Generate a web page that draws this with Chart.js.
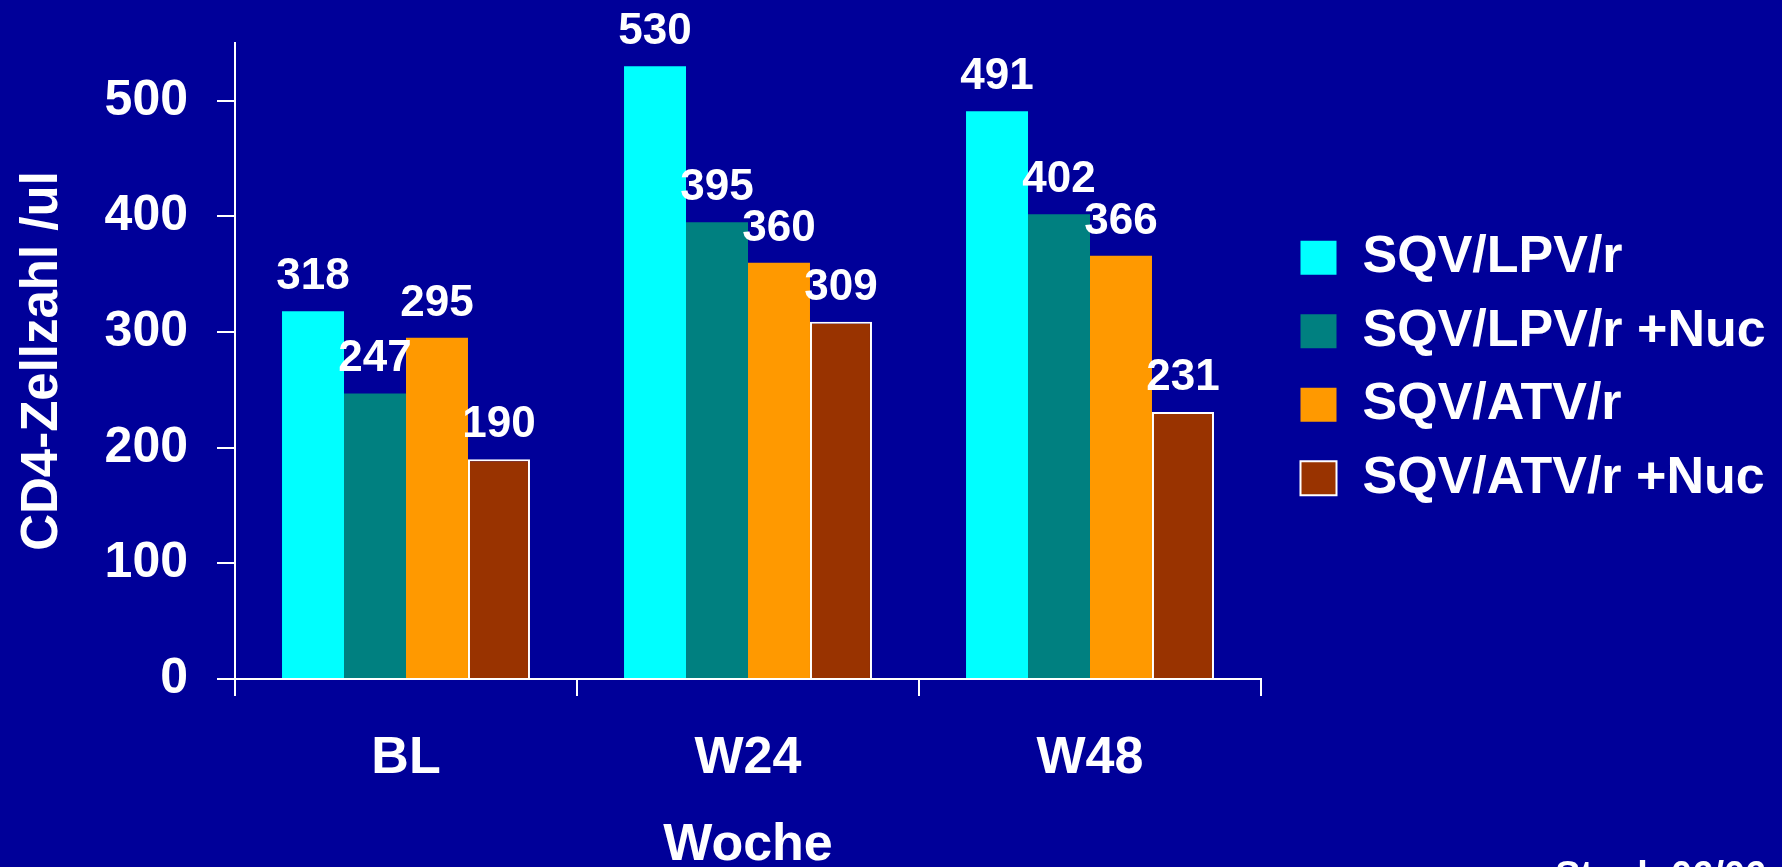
<!DOCTYPE html>
<html>
<head>
<meta charset="utf-8">
<title>CD4-Zellzahl</title>
<script src="https://cdn.jsdelivr.net/npm/chart.js@4.4.1/dist/chart.umd.min.js"></script>
<style>
  html, body { margin: 0; padding: 0; background: #000099; }
  #wrap { position: relative; width: 1782px; height: 867px; }
</style>
</head>
<body>
<div id="wrap"><canvas id="jsChart"></canvas></div>
<script>
// Daten
const weeks = ['BL', 'W24', 'W48'];
const seriesNames = ['SQV/LPV/r', 'SQV/LPV/r +Nuc', 'SQV/ATV/r', 'SQV/ATV/r +Nuc'];
const sqvLpv = [318, 530, 491];
const sqvLpvNuc = [247, 395, 402];
const sqvAtv = [295, 360, 366];
const sqvAtvNuc = [190, 309, 231];
const yTicks = [0, 100, 200, 300, 400, 500];
const footNote = 'Staub 06/06';

const FONT = '"Liberation Sans", Arial, sans-serif';

Chart.defaults.color = '#ffffff';
Chart.defaults.font.family = FONT;
Chart.defaults.font.weight = 'bold';

// Werte über den Balken
const valueLabels = {
  id: 'valueLabels',
  afterDatasetsDraw(chart) {
    const ctx = chart.ctx;
    ctx.save();
    ctx.font = 'bold 44px ' + FONT;
    ctx.fillStyle = '#ffffff';
    ctx.textAlign = 'center';
    ctx.textBaseline = 'alphabetic';
    chart.data.datasets.forEach((ds, i) => {
      chart.getDatasetMeta(i).data.forEach((bar, j) => {
        ctx.fillText(ds.data[j], bar.x, bar.y - 22);
      });
    });
    ctx.restore();
  }
};

// Legende: feste Breite, leicht verschoben wie im Original
const legendPlace = {
  id: 'legendPlace',
  beforeInit(chart) {
    const fit = chart.legend.fit;
    chart.legend.fit = function () {
      fit.call(this);
      this.width = 521;
    };
  },
  afterLayout(chart) {
    chart.legend.left += 18;
    chart.legend.top += 14;
  }
};

// Fußnote unten rechts (im Original abgeschnitten)
const footer = {
  id: 'footer',
  afterDraw(chart) {
    const ctx = chart.ctx;
    ctx.save();
    ctx.font = 'bold 38px ' + FONT;
    ctx.fillStyle = '#ffffff';
    ctx.textAlign = 'left';
    ctx.fillText(footNote, 1555, 888);
    ctx.restore();
  }
};

const ctx = document.getElementById('jsChart');

new Chart(ctx, {
  type: 'bar',
  data: {
    labels: weeks,
    datasets: [
      { label: seriesNames[0], data: sqvLpv, backgroundColor: '#00ffff', borderWidth: 0 },
      { label: seriesNames[1], data: sqvLpvNuc, backgroundColor: '#008080', borderWidth: 0 },
      { label: seriesNames[2], data: sqvAtv, backgroundColor: '#ff9900', borderWidth: 0 },
      { label: seriesNames[3], data: sqvAtvNuc, backgroundColor: '#993300', borderColor: '#ffffff', borderWidth: 2 },
    ],
  },
  options: {
    responsive: true,
    maintainAspectRatio: false,
    animation: false,
    layout: { padding: { top: 43, left: 0, right: 0, bottom: 0 } },
    datasets: {
      bar: { categoryPercentage: 0.725, barPercentage: 1.0 },
    },
    plugins: {
      tooltip: { enabled: false },
      legend: {
        position: 'right',
        align: 'center',
        fullSize: false,
        labels: {
          color: '#ffffff',
          font: { size: 52, weight: 'bold', family: FONT },
          boxWidth: 36,
          boxHeight: 34,
          padding: 21.5,
        },
      },
    },
    scales: {
      x: {
        offset: true,
        grid: {
          offset: true,
          drawOnChartArea: false,
          color: '#ffffff',
          lineWidth: 2,
          tickLength: 17,
        },
        border: { display: true, color: '#ffffff', width: 2 },
        ticks: {
          color: '#ffffff',
          font: { size: 52, weight: 'bold', family: FONT },
          padding: 31,
          maxRotation: 0,
        },
        title: {
          display: true,
          text: 'Woche',
          color: '#ffffff',
          font: { size: 52, weight: 'bold', family: FONT },
          padding: { top: 0, bottom: -10 },
        },
        afterFit(scale) { scale.height = 188; },
      },
      y: {
        min: 0,
        max: 550,
        grid: {
          drawOnChartArea: false,
          color: '#ffffff',
          lineWidth: 2,
          tickLength: 18,
        },
        border: { display: true, color: '#ffffff', width: 2 },
        ticks: {
          stepSize: 100,
          includeBounds: false,
          color: '#ffffff',
          font: { size: 50, weight: 'bold', family: FONT },
          padding: 29,
        },
        afterBuildTicks(scale) {
          scale.ticks = yTicks.map((v) => ({ value: v }));
        },
        title: {
          display: true,
          text: 'CD4-Zellzahl /ul',
          color: '#ffffff',
          font: { size: 51, weight: 'bold', family: FONT },
          padding: { top: 12, bottom: 0 },
        },
        afterFit(scale) {
          scale.width = 235;
          scale.paddingTop = 0;
          scale.paddingBottom = 0;
        },
      },
    },
  },
  plugins: [valueLabels, legendPlace, footer],
});
</script>
</body>
</html>
